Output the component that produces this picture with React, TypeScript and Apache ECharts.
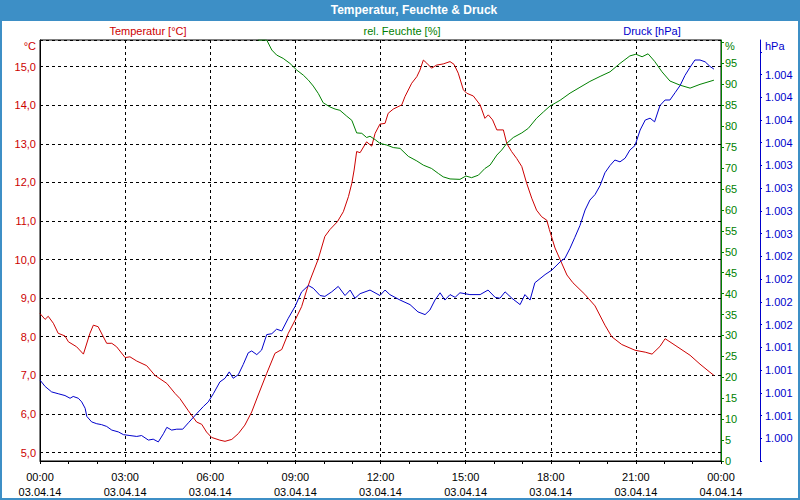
import React, { useEffect, useRef } from "react";
import * as echarts from "echarts";

const xTicks = [0, 3, 6, 9, 12, 15, 18, 21, 24];
const dateLabels = ["03.04.14", "03.04.14", "03.04.14", "03.04.14", "03.04.14", "03.04.14", "03.04.14", "03.04.14", "04.04.14"];

const tempHours = [0.0, 0.18, 0.29, 0.47, 0.64, 0.88, 1.0, 1.29, 1.53, 1.76, 1.88, 2.05, 2.35, 2.53, 2.7, 3.0, 3.17, 3.41, 3.76, 4.05, 4.47, 4.76, 4.93, 5.23, 5.52, 5.7, 5.87, 6.05, 6.34, 6.52, 6.76, 6.99, 7.22, 7.46, 7.69, 7.99, 8.28, 8.52, 8.75, 8.99, 9.22, 9.4, 9.52, 9.8, 10.04, 10.22, 10.48, 10.69, 10.87, 10.99, 11.07, 11.16, 11.28, 11.51, 11.69, 11.81, 11.98, 12.16, 12.27, 12.45, 12.75, 12.86, 13.1, 13.28, 13.39, 13.51, 13.63, 13.8, 13.98, 14.21, 14.45, 14.59, 14.74, 14.92, 15.04, 15.27, 15.51, 15.68, 15.8, 15.95, 16.1, 16.33, 16.45, 16.62, 16.8, 16.98, 17.15, 17.33, 17.5, 17.68, 17.86, 17.95, 18.15, 18.33, 18.57, 18.78, 19.2, 19.56, 19.91, 20.15, 20.5, 20.97, 21.33, 21.57, 21.85, 22.03, 22.38, 22.91, 23.26, 23.61, 23.75];
const tempValues = [8.6, 8.45, 8.53, 8.35, 8.09, 8.02, 7.87, 7.74, 7.55, 8.09, 8.3, 8.26, 7.83, 7.83, 7.74, 7.46, 7.48, 7.37, 7.25, 7.0, 6.79, 6.53, 6.4, 6.08, 5.79, 5.73, 5.53, 5.39, 5.32, 5.29, 5.34, 5.49, 5.71, 6.05, 6.49, 7.05, 7.57, 7.67, 8.09, 8.43, 8.78, 9.21, 9.47, 10.0, 10.6, 10.78, 10.98, 11.24, 11.63, 11.98, 12.32, 12.8, 12.77, 13.05, 12.94, 13.27, 13.51, 13.53, 13.79, 13.9, 14.01, 14.22, 14.57, 14.74, 14.91, 15.17, 15.09, 14.96, 15.04, 15.07, 15.13, 15.06, 14.83, 14.4, 14.31, 14.24, 14.01, 13.66, 13.75, 13.62, 13.36, 13.36, 13.01, 12.8, 12.62, 12.41, 11.98, 11.59, 11.28, 11.11, 11.02, 10.78, 10.3, 10.0, 9.6, 9.4, 9.1, 8.8, 8.3, 8.0, 7.8, 7.65, 7.6, 7.55, 7.75, 7.95, 7.78, 7.52, 7.29, 7.08, 7.0];

const humHours = [7.68, 7.99, 8.17, 8.34, 8.57, 8.81, 9.05, 9.28, 9.46, 9.63, 9.81, 9.98, 10.22, 10.4, 10.57, 10.81, 10.99, 11.16, 11.34, 11.51, 11.63, 11.81, 11.98, 12.22, 12.45, 12.69, 12.98, 13.28, 13.51, 13.8, 14.04, 14.21, 14.45, 14.8, 15.01, 15.21, 15.45, 15.68, 15.86, 16.1, 16.27, 16.45, 16.68, 16.98, 17.21, 17.5, 17.74, 17.97, 18.33, 18.68, 19.03, 19.38, 19.74, 20.09, 20.44, 20.79, 21.0, 21.22, 21.43, 21.66, 21.92, 22.2, 22.56, 22.91, 23.26, 23.75];
const humValues = [100.6, 100.6, 98.2, 97.0, 96.2, 95.0, 93.4, 92.2, 91.0, 89.6, 87.8, 85.6, 84.6, 84.1, 83.8, 82.4, 81.4, 78.4, 78.3, 77.3, 77.6, 76.8, 75.9, 75.5, 74.9, 74.7, 72.8, 71.7, 70.7, 69.9, 68.7, 67.9, 67.4, 67.3, 68.1, 67.7, 68.3, 69.9, 70.7, 73.1, 74.3, 75.9, 77.3, 78.4, 79.5, 81.9, 83.4, 84.8, 86.2, 87.9, 89.3, 90.7, 91.9, 93.0, 95.0, 96.8, 97.2, 96.6, 97.3, 95.5, 93.0, 90.8, 89.8, 89.1, 90.0, 91.0];

const presHours = [0.0, 0.18, 0.41, 0.64, 0.88, 1.06, 1.17, 1.35, 1.47, 1.59, 1.65, 1.82, 2.0, 2.17, 2.35, 2.53, 2.76, 2.94, 3.17, 3.41, 3.58, 3.82, 3.99, 4.17, 4.35, 4.47, 4.64, 4.82, 5.03, 5.23, 5.52, 5.76, 5.93, 6.11, 6.34, 6.52, 6.67, 6.81, 6.99, 7.16, 7.34, 7.46, 7.64, 7.81, 7.99, 8.17, 8.34, 8.52, 8.75, 8.99, 9.22, 9.46, 9.63, 9.87, 10.04, 10.28, 10.51, 10.75, 10.93, 11.1, 11.28, 11.63, 11.98, 12.16, 12.33, 12.69, 13.04, 13.32, 13.57, 13.74, 13.92, 14.1, 14.27, 14.45, 14.63, 14.8, 15.15, 15.51, 15.79, 16.04, 16.21, 16.39, 16.63, 16.92, 17.09, 17.27, 17.44, 17.8, 18.04, 18.33, 18.5, 18.68, 18.85, 19.03, 19.21, 19.38, 19.56, 19.74, 19.91, 20.09, 20.26, 20.44, 20.62, 20.79, 20.97, 21.15, 21.33, 21.5, 21.66, 21.85, 22.03, 22.2, 22.38, 22.56, 22.73, 22.91, 23.08, 23.26, 23.44, 23.61, 23.75];
const presValues = [1000.89, 1000.82, 1000.76, 1000.74, 1000.72, 1000.69, 1000.71, 1000.69, 1000.65, 1000.58, 1000.49, 1000.43, 1000.41, 1000.4, 1000.38, 1000.34, 1000.32, 1000.29, 1000.28, 1000.27, 1000.28, 1000.23, 1000.24, 1000.21, 1000.3, 1000.37, 1000.34, 1000.35, 1000.35, 1000.42, 1000.52, 1000.6, 1000.65, 1000.74, 1000.87, 1000.91, 1000.98, 1000.91, 1000.95, 1001.06, 1001.19, 1001.21, 1001.17, 1001.22, 1001.39, 1001.4, 1001.45, 1001.43, 1001.57, 1001.7, 1001.86, 1001.93, 1001.9, 1001.82, 1001.81, 1001.86, 1001.92, 1001.82, 1001.88, 1001.79, 1001.84, 1001.88, 1001.82, 1001.88, 1001.83, 1001.77, 1001.72, 1001.64, 1001.61, 1001.66, 1001.77, 1001.85, 1001.77, 1001.83, 1001.8, 1001.85, 1001.83, 1001.83, 1001.88, 1001.8, 1001.79, 1001.86, 1001.79, 1001.72, 1001.83, 1001.77, 1001.96, 1002.05, 1002.1, 1002.19, 1002.23, 1002.34, 1002.46, 1002.59, 1002.76, 1002.87, 1002.93, 1003.03, 1003.17, 1003.25, 1003.31, 1003.29, 1003.33, 1003.42, 1003.47, 1003.64, 1003.75, 1003.77, 1003.73, 1003.91, 1003.97, 1003.97, 1004.05, 1004.13, 1004.24, 1004.33, 1004.41, 1004.41, 1004.39, 1004.34, 1004.31];

const FONT = "Liberation Sans";
const RED = "#cc0000";
const GREEN = "#008000";
const BLUE = "#0000cc";

function zip(xs: number[], ys: number[]) {
  return xs.map((x, i) => [x, ys[i]]);
}

export default function App() {
  const ref = useRef<HTMLDivElement>(null);
  useEffect(() => {
    if (!ref.current) return;
    const chart = echarts.init(ref.current, null, { renderer: "svg" });
    const pad = (n: number) => (n < 10 ? "0" + n : String(n));
    chart.setOption({
      animation: false,
      backgroundColor: "#ffffff",
      grid: { left: 40, right: 79, top: 40, bottom: 39, show: true, borderColor: "#000", borderWidth: 1, backgroundColor: "transparent" },
      graphic: [
        { type: "rect", shape: { x: 0, y: 0, width: 800, height: 21 }, style: { fill: "#3d8fc6" }, z: 10 },
        { type: "rect", shape: { x: 1, y: 1, width: 798, height: 498 }, style: { fill: "none", stroke: "#3d8fc6", lineWidth: 2 }, z: 10 },
        { type: "text", x: 414, y: 10, style: { text: "Temperatur, Feuchte & Druck", fill: "#fff", font: `bold 12px '${FONT}'`, align: "center", verticalAlign: "middle" }, z: 11 },
        { type: "text", x: 148, y: 31, style: { text: "Temperatur [°C]", fill: RED, font: `11px '${FONT}'`, align: "center", verticalAlign: "middle" } },
        { type: "text", x: 402, y: 31, style: { text: "rel. Feuchte [%]", fill: GREEN, font: `11px '${FONT}'`, align: "center", verticalAlign: "middle" } },
        { type: "text", x: 652, y: 31, style: { text: "Druck [hPa]", fill: BLUE, font: `11px '${FONT}'`, align: "center", verticalAlign: "middle" } },
        { type: "text", x: 36, y: 46, style: { text: "°C", fill: RED, font: `11px '${FONT}'`, align: "right", verticalAlign: "middle" } },
        { type: "text", x: 725, y: 46, style: { text: "%", fill: GREEN, font: `11px '${FONT}'`, align: "left", verticalAlign: "middle" } },
        { type: "text", x: 765, y: 46, style: { text: "hPa", fill: BLUE, font: `11px '${FONT}'`, align: "left", verticalAlign: "middle" } },
      ],
      xAxis: {
        type: "value",
        min: xTicks[0],
        max: xTicks[xTicks.length - 1],
        interval: 3,
        axisLine: { lineStyle: { color: "#000", width: 1 } },
        axisTick: { show: true, length: 3, lineStyle: { color: "#000" } },
        minorTick: { show: true, splitNumber: 3, length: 3, lineStyle: { color: "#000" } },
        splitLine: { show: true, lineStyle: { color: "#000", type: [3, 3], width: 1 } },
        axisLabel: {
          color: "#000",
          fontFamily: FONT,
          fontSize: 11,
          lineHeight: 15,
          margin: 8,
          formatter: (v: number) => {
            const i = xTicks.indexOf(v);
            if (i < 0) return "";
            return `${pad(v % 24)}:00\n${dateLabels[i]}`;
          },
        },
      },
      yAxis: [
        {
          type: "value",
          min: 4.78,
          max: 15.69,
          splitNumber: 10,
          position: "left",
          axisLine: { show: true, lineStyle: { color: "#000" } },
          axisTick: { show: false },
          splitLine: { show: true, lineStyle: { color: "#000", type: [3, 3], width: 1 } },
          axisLabel: {
            color: RED,
            fontFamily: FONT,
            fontSize: 11,
            margin: 4,
            showMinLabel: false,
            showMaxLabel: false,
            formatter: (v: number) => v.toFixed(1).replace(".", ","),
          },
        },
        {
          type: "value",
          min: 0,
          max: 100.6,
          interval: 5,
          position: "right",
          offset: 0,
          axisLine: { show: true, lineStyle: { color: GREEN } },
          axisTick: { show: true, length: 3, lineStyle: { color: GREEN } },
          splitLine: { show: false },
          axisLabel: {
            color: GREEN,
            fontFamily: FONT,
            fontSize: 11,
            margin: 4,
            showMaxLabel: false,
            formatter: (v: number) => (v > 97 ? "" : String(v)),
          },
        },
        {
          type: "value",
          min: 1000,
          max: 1004.63,
          interval: 0.25,
          position: "right",
          offset: 39,
          axisLine: { show: true, lineStyle: { color: BLUE } },
          axisTick: { show: true, length: 2, lineStyle: { color: BLUE } },
          splitLine: { show: false },
          axisLabel: {
            color: BLUE,
            fontFamily: FONT,
            fontSize: 11,
            margin: 5,
            showMaxLabel: false,
            formatter: (v: number) => {
              if (v < 1000.1 || v > 1004.3) return "";
              const r = Math.round(v);
              return "1." + String(r).slice(1);
            },
          },
        },
      ],
      series: [
        { name: "Temperatur [°C]", type: "line", yAxisIndex: 0, showSymbol: false, symbol: "none", data: zip(tempHours, tempValues), lineStyle: { color: RED, width: 1 }, itemStyle: { color: RED } },
        { name: "rel. Feuchte [%]", type: "line", yAxisIndex: 1, showSymbol: false, symbol: "none", data: zip(humHours, humValues), lineStyle: { color: GREEN, width: 1 }, itemStyle: { color: GREEN } },
        { name: "Druck [hPa]", type: "line", yAxisIndex: 2, showSymbol: false, symbol: "none", data: zip(presHours, presValues), lineStyle: { color: BLUE, width: 1 }, itemStyle: { color: BLUE } },
      ],
    });
    return () => chart.dispose();
  }, []);
  return <div ref={ref} style={{ position: "fixed", left: 0, top: 0, width: 800, height: 500 }} />;
}
